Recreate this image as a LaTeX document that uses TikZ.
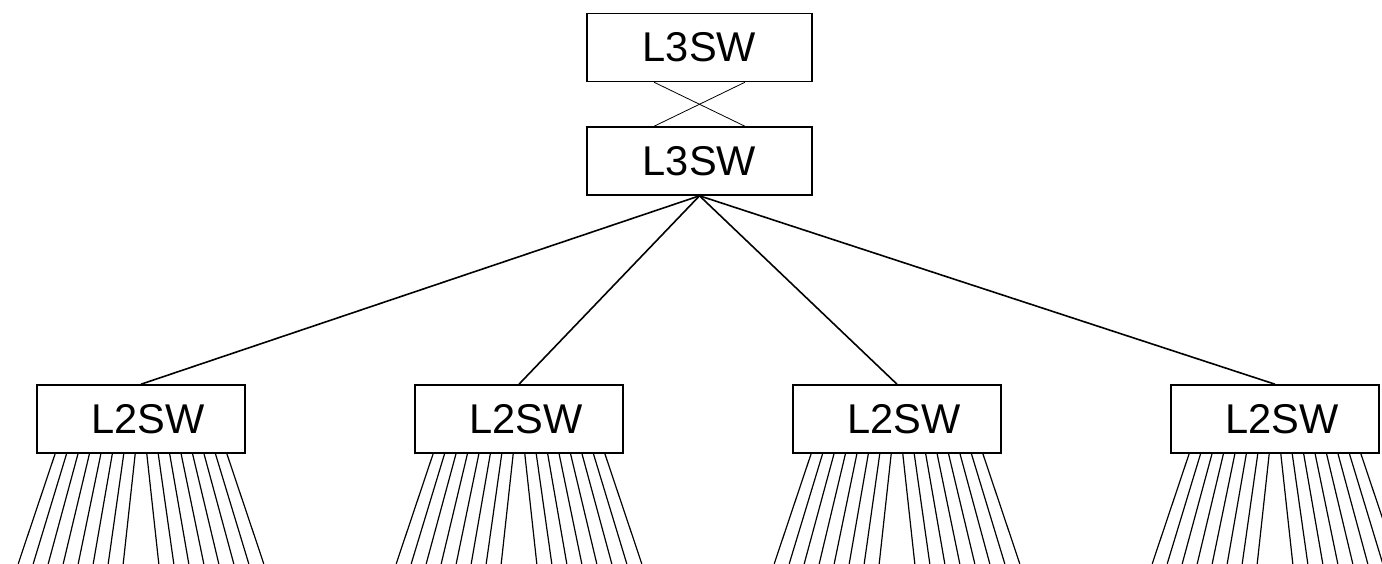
\documentclass[tikz,border=0pt]{standalone}
\usepackage{fontspec}
\setmainfont{Liberation Sans}
\usetikzlibrary{calc}
\begin{document}
\begin{tikzpicture}[x=.5pt, y=-.5pt,
    sw/.style={draw, line width=.8pt, minimum height=34pt, inner sep=0pt, font=\fontsize{20.8}{25}\selectfont},
    l3/.style={sw, minimum width=112.5pt},
    l2/.style={sw, minimum width=104pt}]
\useasboundingbox (0,0) rectangle (1382,563);
\node[l3] (top) at (699.5,47.5) {L3SW};
\node[l3] (core) at (699.5,161) {L3SW};
\draw[line width=.4pt] ($(top.south)!.4!(top.south west)$)--($(core.north)!.4!(core.north east)$);
\draw[line width=.4pt] ($(top.south)!.4!(top.south east)$)--($(core.north)!.4!(core.north west)$);
\foreach \i in {0,...,3}
{
    \node[l2] (l2\i) at (141+378*\i,419) {\hspace{7pt}L2SW};
    \draw[line width=.8pt] (core.south)--(l2\i.north);
    \foreach \k in {0,...,7}
    {
        \draw[line width=.6pt] ($(l2\i.south)+(-5.8-11.44*\k,0)$)--++(-12-3.56*\k,110);
        \draw[line width=.6pt] ($(l2\i.south)+(5.8+11.44*\k,0)$)--++(12+3.56*\k,110);
    }
}
\end{tikzpicture}
\end{document}
